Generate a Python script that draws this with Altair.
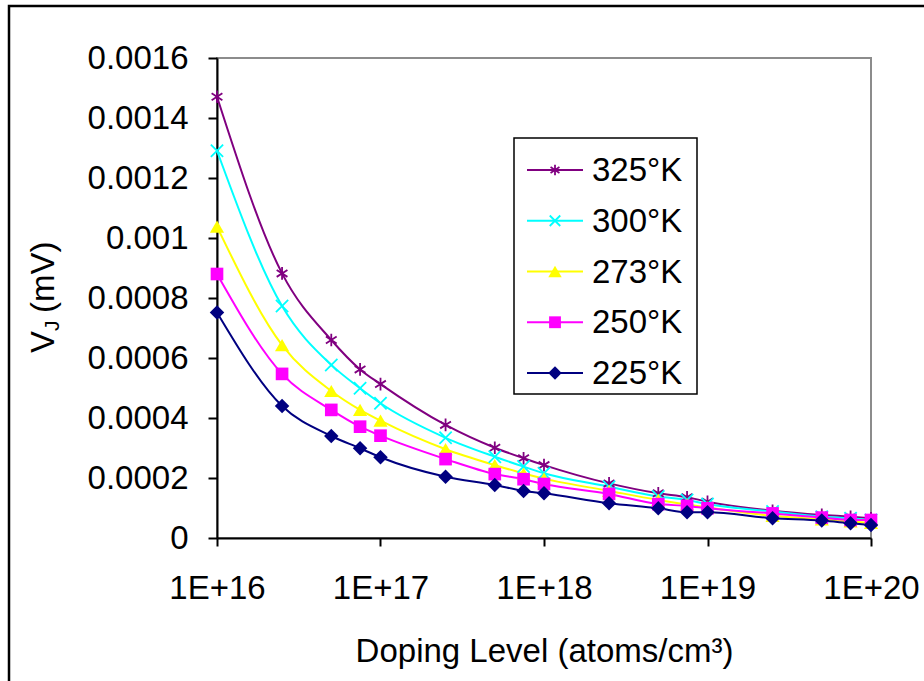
import altair as alt
import pandas as pd

# ---- data ----
doping = [1e16, 2.5e16, 5e16, 7.5e16, 1e17, 2.5e17, 5e17, 7.5e17, 1e18,
          2.5e18, 5e18, 7.5e18, 1e19, 2.5e19, 5e19, 7.5e19, 1e20]
series_names = ["325°K", "300°K", "273°K", "250°K", "225°K"]
series_colors = ["#800080", "#00FFFF", "#FFFF00", "#FF00FF", "#000080"]

v_325 = [0.001471, 0.000882, 0.000660, 0.000562, 0.000513, 0.000377, 0.000301, 0.000266, 0.000243,
         0.000182, 0.000149, 0.000136, 0.000121, 0.000091, 0.000077, 0.000071, 0.000066]
v_300 = [0.001291, 0.000773, 0.000577, 0.000499, 0.000449, 0.000334, 0.000271, 0.000238, 0.000216,
         0.000171, 0.000138, 0.000127, 0.000113, 0.000088, 0.000071, 0.000066, 0.000060]
v_273 = [0.001038, 0.000643, 0.000490, 0.000427, 0.000391, 0.000296, 0.000243, 0.000215, 0.000198,
         0.000157, 0.000127, 0.000112, 0.000102, 0.000074, 0.000062, 0.000055, 0.000050]
v_250 = [0.000880, 0.000547, 0.000427, 0.000371, 0.000341, 0.000263, 0.000213, 0.000196, 0.000180,
         0.000147, 0.000113, 0.000107, 0.000099, 0.000082, 0.000068, 0.000060, 0.000060]
v_225 = [0.000752, 0.000440, 0.000340, 0.000299, 0.000269, 0.000204, 0.000177, 0.000157, 0.000149,
         0.000116, 0.000099, 0.000086, 0.000086, 0.000066, 0.000058, 0.000049, 0.000043]
all_values = [v_325, v_300, v_273, v_250, v_225]

x_tick_values = [1e16, 1e17, 1e18, 1e19, 1e20]
y_tick_values = [0, 0.0002, 0.0004, 0.0006, 0.0008, 0.001, 0.0012, 0.0014, 0.0016]

rows = []
for name, vals in zip(series_names, all_values):
    for xv, yv in zip(doping, vals):
        rows.append({"series": name, "doping": xv, "v": yv})
df = pd.DataFrame(rows)

FONT = "Liberation Sans"
FS = 33
PL, PT = 217, 58          # plot origin in page pixels
W, H = 654, 480

asterisk = "M0,-1L0,1M-0.85,-0.55L0.85,0.55M-0.85,0.55L0.85,-0.55"
cross = "M-1,-1L1,1M-1,1L1,-1"
shapes = [asterisk, cross, "triangle-up", "square", "diamond"]
filled = [False, False, True, True, True]
sizes = [160, 150, 200, 160, 210]
leg_sizes = [110, 110, 180, 140, 180]

x_enc = alt.X("doping:Q",
              scale=alt.Scale(type="log", domain=[1e16, 1e20], nice=False),
              axis=alt.Axis(values=x_tick_values,
                            labelExpr="'1E+' + round(log(datum.value) / LN10)",
                            title="Doping Level (atoms/cm³)",
                            labelFlush=False, labelOverlap=False,
                            labelPadding=26, titlePadding=30, tickSize=8))
y_enc = alt.Y("v:Q",
              scale=alt.Scale(domain=[0, 0.0016], nice=False),
              axis=alt.Axis(values=y_tick_values, format=".4~f", title=None,
                            labelPadding=20, tickSize=9))
c_enc = alt.Color("series:N", scale=alt.Scale(domain=series_names, range=series_colors), legend=None)

base = alt.Chart(df)
layers = []
for i, name in enumerate(series_names):
    sub = base.transform_filter(alt.datum.series == name)
    layers.append(sub.mark_line(interpolate="monotone", strokeWidth=2)
                  .encode(x=x_enc, y=y_enc, color=c_enc))
for i, name in enumerate(series_names):
    sub = base.transform_filter(alt.datum.series == name)
    if filled[i]:
        pm = sub.mark_point(shape=shapes[i], filled=True, size=sizes[i], opacity=1)
    else:
        pm = sub.mark_point(shape=shapes[i], filled=False, size=sizes[i], strokeWidth=1.8, opacity=1)
    layers.append(pm.encode(x=x_enc, y=y_enc, color=c_enc))

one = alt.Data(values=[{}])

# legend box
layers.append(alt.Chart(one).mark_rect(fill="white", stroke="black", strokeWidth=1.5).encode(
    x=alt.value(514 - PL), x2=alt.value(697 - PL),
    y=alt.value(138 - PT), y2=alt.value(394 - PT)))
for i, name in enumerate(series_names):
    yc = 170 - PT + i * 50.75
    layers.append(alt.Chart(one).mark_rule(color=series_colors[i], strokeWidth=2).encode(
        x=alt.value(527 - PL), x2=alt.value(583 - PL), y=alt.value(yc)))
    if filled[i]:
        lm = alt.Chart(one).mark_point(shape=shapes[i], filled=True, size=leg_sizes[i],
                                       color=series_colors[i], opacity=1)
    else:
        lm = alt.Chart(one).mark_point(shape=shapes[i], filled=False, size=leg_sizes[i],
                                       color=series_colors[i], strokeWidth=1.8, opacity=1)
    layers.append(lm.encode(x=alt.value(555 - PL), y=alt.value(yc)))
    layers.append(alt.Chart(one).mark_text(align="left", baseline="middle", font=FONT,
                                           fontSize=FS, color="black").encode(
        x=alt.value(592 - PL), y=alt.value(yc + 1), text=alt.value(name)))

# y-axis title with subscript J
layers.append(alt.Chart(one).mark_text(angle=270, align="left", baseline="alphabetic",
                                       font=FONT, fontSize=FS, color="black").encode(
    x=alt.value(54 - PL), y=alt.value(353 - PT), text=alt.value("V")))
layers.append(alt.Chart(one).mark_text(angle=270, align="left", baseline="alphabetic",
                                       font=FONT, fontSize=21, color="black").encode(
    x=alt.value(59 - PL), y=alt.value(331 - PT), text=alt.value("J")))
layers.append(alt.Chart(one).mark_text(angle=270, align="left", baseline="alphabetic",
                                       font=FONT, fontSize=FS, color="black").encode(
    x=alt.value(54 - PL), y=alt.value(313 - PT), text=alt.value("(mV)")))

# outer chart border
layers.append(alt.Chart(one).mark_rect(fill="white", fillOpacity=0, stroke="black", strokeWidth=2.5).encode(
    x=alt.value(9 - PL), x2=alt.value(924 - PL + 20),
    y=alt.value(6 - PT), y2=alt.value(681 - PT + 20)))

chart = alt.layer(*layers).properties(
    width=W, height=H,
    autosize=alt.AutoSizeParams(type="none"),
    padding={"left": PL, "top": PT, "right": 924 - PL - W, "bottom": 681 - PT - H},
    background="white",
).configure_view(
    stroke="#8c8c8c", strokeWidth=2
).configure_axis(
    grid=False,
    domainColor="black", domainWidth=2,
    tickColor="black", tickWidth=2,
    labelFont=FONT, labelFontSize=FS, labelColor="black",
    titleFont=FONT, titleFontSize=FS, titleFontWeight="normal", titleColor="black",
)

chart.save("out.html", embed_options={"renderer": "svg", "actions": False})
